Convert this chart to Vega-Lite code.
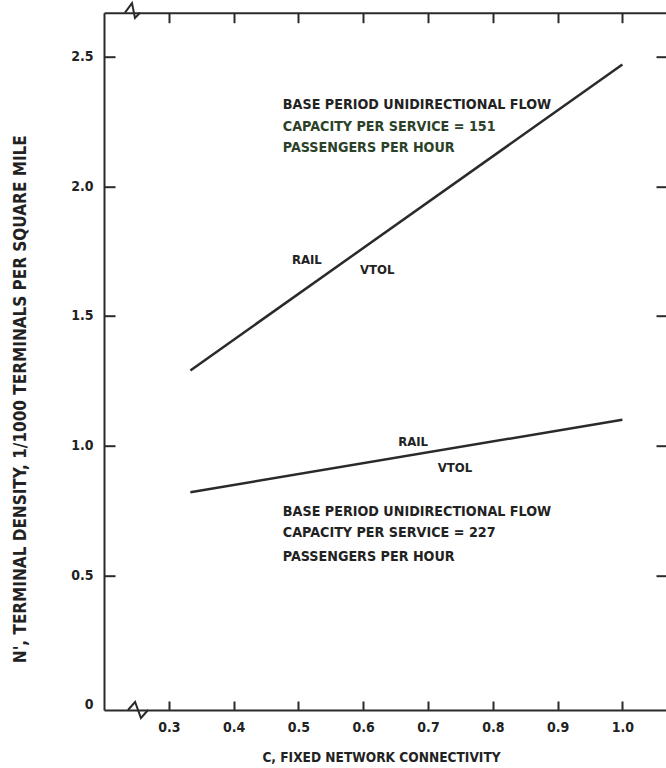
{
  "$schema": "https://vega.github.io/schema/vega-lite/v6.json",
  "width": 562,
  "height": 697.3,
  "autosize": "none",
  "padding": {"left": 104, "top": 12.7, "right": 0, "bottom": 58},
  "background": "white",
  "config": {
    "view": {"stroke": null},
    "font": "DejaVu Sans Condensed",
    "axis": {
      "grid": false,
      "domainColor": "#2a2a2a",
      "domainWidth": 2,
      "tickColor": "#2a2a2a",
      "tickWidth": 2,
      "labelFont": "DejaVu Sans Condensed",
      "labelFontWeight": "bold",
      "labelColor": "#222222",
      "titleFont": "DejaVu Sans Condensed",
      "titleFontWeight": "bold",
      "titleColor": "#222222"
    }
  },
  "datasets": {
    "lines": [
      {"series": "151", "c": 0.3333, "n": 1.29},
      {"series": "151", "c": 1.0, "n": 2.47},
      {"series": "227", "c": 0.3333, "n": 0.82},
      {"series": "227", "c": 1.0, "n": 1.1}
    ],
    "breaks": [
      {"g": "bottom", "i": 0, "c": 0.237, "n": -0.02},
      {"g": "bottom", "i": 1, "c": 0.248, "n": 0.011},
      {"g": "bottom", "i": 2, "c": 0.257, "n": -0.051},
      {"g": "bottom", "i": 3, "c": 0.268, "n": -0.02},
      {"g": "top", "i": 0, "c": 0.2324, "n": 2.67},
      {"g": "top", "i": 1, "c": 0.2432, "n": 2.707},
      {"g": "top", "i": 2, "c": 0.2478, "n": 2.65},
      {"g": "top", "i": 3, "c": 0.2556, "n": 2.67}
    ],
    "notes": [
      {"c": 0.476, "n": 2.314, "text": "BASE PERIOD UNIDIRECTIONAL FLOW", "tone": "dark", "kind": "block"},
      {"c": 0.476, "n": 2.229, "text": "CAPACITY PER SERVICE = 151", "tone": "green", "kind": "block"},
      {"c": 0.476, "n": 2.148, "text": "PASSENGERS PER HOUR", "tone": "green", "kind": "block"},
      {"c": 0.476, "n": 0.744, "text": "BASE PERIOD UNIDIRECTIONAL FLOW", "tone": "dark", "kind": "block"},
      {"c": 0.476, "n": 0.663, "text": "CAPACITY PER SERVICE = 227", "tone": "dark", "kind": "block"},
      {"c": 0.476, "n": 0.57, "text": "PASSENGERS PER HOUR", "tone": "dark", "kind": "block"},
      {"c": 0.49, "n": 1.716, "text": "RAIL", "tone": "dark", "kind": "tag"},
      {"c": 0.595, "n": 1.677, "text": "VTOL", "tone": "dark", "kind": "tag"},
      {"c": 0.654, "n": 1.014, "text": "RAIL", "tone": "dark", "kind": "tag"},
      {"c": 0.715, "n": 0.914, "text": "VTOL", "tone": "dark", "kind": "tag"}
    ]
  },
  "resolve": {"axis": {"x": "independent", "y": "independent"}},
  "layer": [
    {
      "data": {"name": "lines"},
      "mark": {"type": "line", "color": "#2a2a2a", "strokeWidth": 2.5},
      "encoding": {
        "x": {
          "field": "c", "type": "quantitative",
          "scale": {"domain": [0.2, 1.0673], "nice": false, "zero": false},
          "axis": {
            "orient": "bottom",
            "values": [0.3, 0.4, 0.5, 0.6, 0.7, 0.8, 0.9, 1.0],
            "format": ".1f",
            "tickSize": -9,
            "labelPadding": 19,
            "labelFontSize": 14,
            "title": "C, FIXED NETWORK CONNECTIVITY",
            "titleFontSize": 13.6,
            "titleX": 277,
            "titleY": 47,
            "titleBaseline": "middle",
            "titleAnchor": null,
            "titleAlign": "center"
          }
        },
        "y": {
          "field": "n", "type": "quantitative",
          "scale": {"domain": [-0.02, 2.67], "nice": false, "zero": false},
          "axis": {
            "orient": "left",
            "values": [0, 0.5, 1.0, 1.5, 2.0, 2.5],
            "labelExpr": "datum.value == 0 ? '0' : format(datum.value, '.1f')",
            "tickSize": -11,
            "tickOpacity": {"condition": {"test": "datum.value == 0", "value": 0}, "value": 1},
            "labelPadding": 22,
            "labelFontSize": 14,
            "title": "N', TERMINAL DENSITY, 1/1000 TERMINALS PER SQUARE MILE",
            "titleFontSize": 17,
            "titleX": -84,
            "titleY": 386,
            "titleAngle": -90,
            "titleBaseline": "middle",
            "titleAlign": "center",
            "titleAnchor": null
          }
        },
        "detail": {"field": "series"}
      }
    },
    {
      "data": {"name": "notes"},
      "mark": {"type": "text", "align": "left", "baseline": "middle", "fontWeight": "bold", "font": "DejaVu Sans Condensed"},
      "encoding": {
        "x": {
          "field": "c", "type": "quantitative",
          "axis": {
            "orient": "top",
            "values": [0.3, 0.4, 0.5, 0.6, 0.7, 0.8, 0.9, 1.0],
            "labels": false,
            "tickSize": -10,
            "title": null
          }
        },
        "y": {
          "field": "n", "type": "quantitative",
          "axis": {
            "orient": "right",
            "values": [0.5, 1.0, 1.5, 2.0, 2.5],
            "labels": false,
            "domain": false,
            "tickSize": -10,
            "title": null
          }
        },
        "text": {"field": "text"},
        "size": {
          "field": "kind", "type": "nominal",
          "scale": {"domain": ["block", "tag"], "range": [14.2, 13]},
          "legend": null
        },
        "color": {
          "field": "tone", "type": "nominal",
          "scale": {"domain": ["dark", "green"], "range": ["#222222", "#2b4228"]},
          "legend": null
        }
      }
    },
    {
      "data": {"name": "breaks"},
      "mark": {"type": "line", "color": "#2a2a2a", "strokeWidth": 2},
      "encoding": {
        "x": {"field": "c", "type": "quantitative", "axis": null},
        "y": {"field": "n", "type": "quantitative", "axis": null},
        "detail": {"field": "g"},
        "order": {"field": "i"}
      }
    }
  ]
}
